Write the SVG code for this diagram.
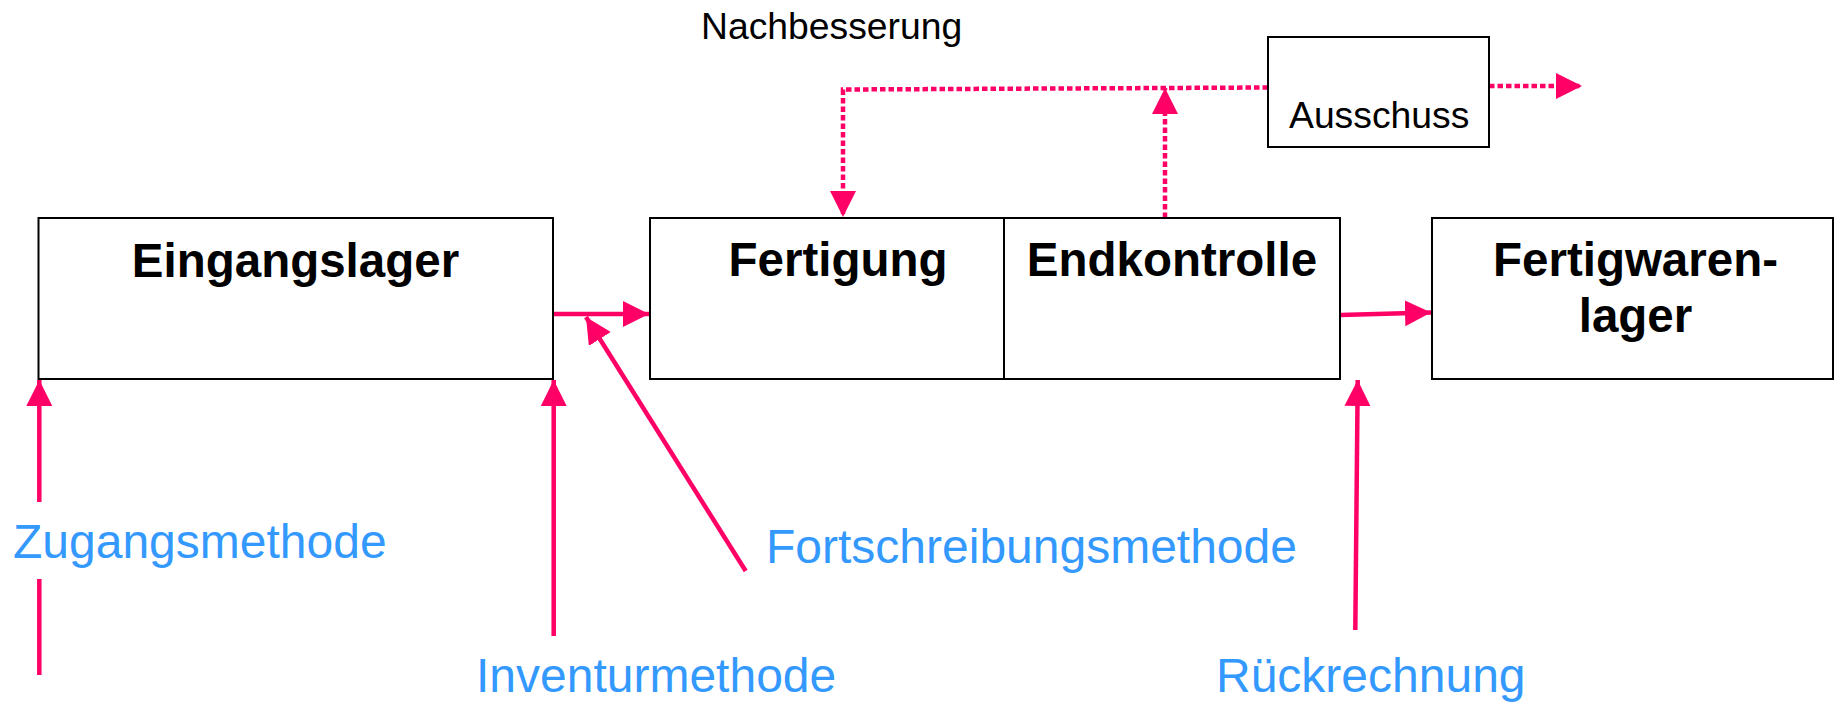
<svg xmlns="http://www.w3.org/2000/svg" width="1834" height="703" viewBox="0 0 1834 703">
<style>
.box{fill:#fff;stroke:#000;stroke-width:2}
.lbl{font-family:"Liberation Sans",Arial,sans-serif;font-weight:bold;font-size:47.5px;fill:#000;text-anchor:middle}
.sm{font-family:"Liberation Sans",Arial,sans-serif;font-size:37.3px;fill:#000}
.blue{font-family:"Liberation Sans",Arial,sans-serif;font-size:48px;fill:#3399FF}
.ln{fill:none;stroke:#FF0066;stroke-width:4.5}
.dot{fill:none;stroke:#FF0066;stroke-width:4.5;stroke-dasharray:5.5 3}
</style>
<defs>
<marker id="ah" markerUnits="userSpaceOnUse" markerWidth="27" markerHeight="27" refX="26" refY="13" orient="auto" viewBox="0 0 27 27">
<path d="M0,0 L26,13 L0,26 z" fill="#FF0066"/>
</marker>
</defs>
<rect width="1834" height="703" fill="#fff"/>
<g id="connectors">
<line class="ln" x1="553" y1="314" x2="649" y2="314" marker-end="url(#ah)"/>
<line class="ln" x1="745.7" y1="571" x2="586" y2="317" marker-end="url(#ah)"/>
<line class="ln" x1="39.3" y1="502" x2="39.3" y2="380" marker-end="url(#ah)"/>
<line class="ln" x1="39.3" y1="579" x2="39.3" y2="675"/>
<line class="ln" x1="553.7" y1="636" x2="553.7" y2="380" marker-end="url(#ah)"/>
<line class="ln" x1="1355.3" y1="630" x2="1357.7" y2="380" marker-end="url(#ah)"/>
<line class="ln" x1="1340" y1="315" x2="1431" y2="312.5" marker-end="url(#ah)"/>
<path class="dot" d="M1268,87.5 L843,89.5 L843,217" marker-end="url(#ah)"/>
<line class="dot" x1="1165" y1="218" x2="1165" y2="88" marker-end="url(#ah)"/>
<line class="dot" x1="1489" y1="86" x2="1582" y2="86" marker-end="url(#ah)"/>
</g>
<g id="eingangslager">
<rect class="box" x="38.5" y="218" width="514.5" height="161"/>
<text class="lbl" x="295.5" y="277">Eingangslager</text>
</g>
<g id="fertigung">
<rect class="box" x="650" y="218" width="376" height="161"/>
<text class="lbl" x="838" y="276">Fertigung</text>
</g>
<g id="endkontrolle">
<rect class="box" x="1004" y="218" width="336" height="161"/>
<text class="lbl" x="1172" y="276">Endkontrolle</text>
</g>
<g id="fertigwarenlager">
<rect class="box" x="1432" y="218" width="401" height="161"/>
<text class="lbl" x="1635.5" y="276">Fertigwaren-</text>
<text class="lbl" x="1635.5" y="332">lager</text>
</g>
<g id="ausschuss">
<rect class="box" x="1268" y="37" width="221" height="110"/>
<text class="sm" x="1289" y="128">Ausschuss</text>
</g>
<g id="labels">
<text class="sm" x="701" y="39">Nachbesserung</text>
<text class="blue" x="13" y="558">Zugangsmethode</text>
<text class="blue" x="476" y="692">Inventurmethode</text>
<text class="blue" x="766" y="563">Fortschreibungsmethode</text>
<text class="blue" x="1216" y="692">Rückrechnung</text>
</g>
</svg>
